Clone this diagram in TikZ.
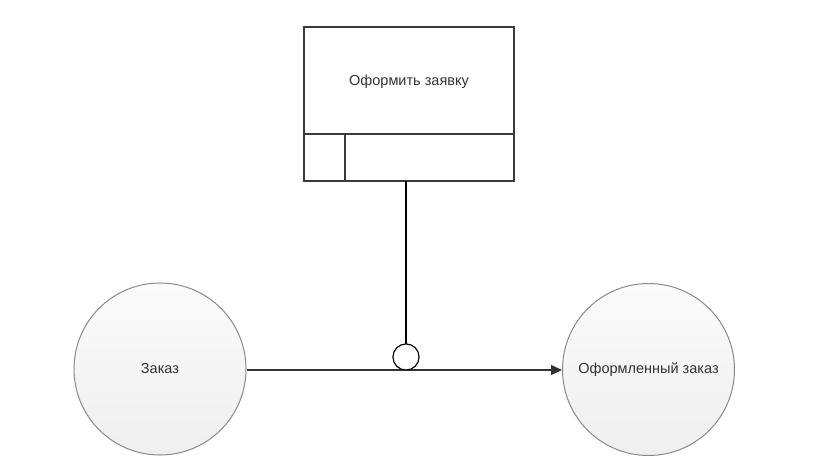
\documentclass[tikz,border=0pt]{standalone}
\usepackage{fontspec}
\setmainfont{Liberation Sans}
\usetikzlibrary{arrows.meta}
\definecolor{txt}{HTML}{333333}
\definecolor{circtop}{HTML}{FBFBFB}
\definecolor{circbot}{HTML}{EFEFEF}
\definecolor{circline}{HTML}{8A8A8A}
\definecolor{boxline}{HTML}{3A3A3A}
\tikzset{
  lbl/.style={font=\fontsize{14.5}{17}\selectfont, text=txt},
  state/.style={circle, draw=circline, line width=1pt, top color=circtop, bottom color=circbot,
    minimum size=172pt, inner sep=0pt, lbl},
  funcbox/.style={rectangle, draw=boxline, line width=1.2pt, minimum width=210pt, minimum height=154pt, inner sep=0pt},
  conn/.style={line width=1.2pt, draw=black!80},
  junction/.style={circle, draw=black, line width=1pt, fill=white, minimum size=26pt, inner sep=0pt},
}
\begin{document}
\begin{tikzpicture}[x=1pt,y=-1pt]
\useasboundingbox (0,0) rectangle (831,472);
\node[funcbox] (box) at (409,104) {};
\node[lbl] (boxlabel) at (409,82) {Оформить заявку};
\coordinate (divL) at (304,134);
\coordinate (divR) at (514,134);
\coordinate (vt) at (345,134);
\coordinate (vb) at (345,181);
\draw[draw=boxline, line width=1.2pt] (divL) -- (divR);
\draw[draw=boxline, line width=1.2pt] (vt) -- (vb);
\node[state] (a) at (160,369) {Заказ};
\node[state] (b) at (648.5,369.5) {Оформленный заказ};
\coordinate (jt) at (406,181);
\node[junction] (j) at (406,357) {};
\draw[conn, -{Triangle[length=11pt,width=10pt]}] (a.east |- 0,370) -- (b.west |- 0,370);
\draw[line width=1.2pt] (jt) -- (j.north);
\node[junction] at (j) {};
\end{tikzpicture}
\end{document}
